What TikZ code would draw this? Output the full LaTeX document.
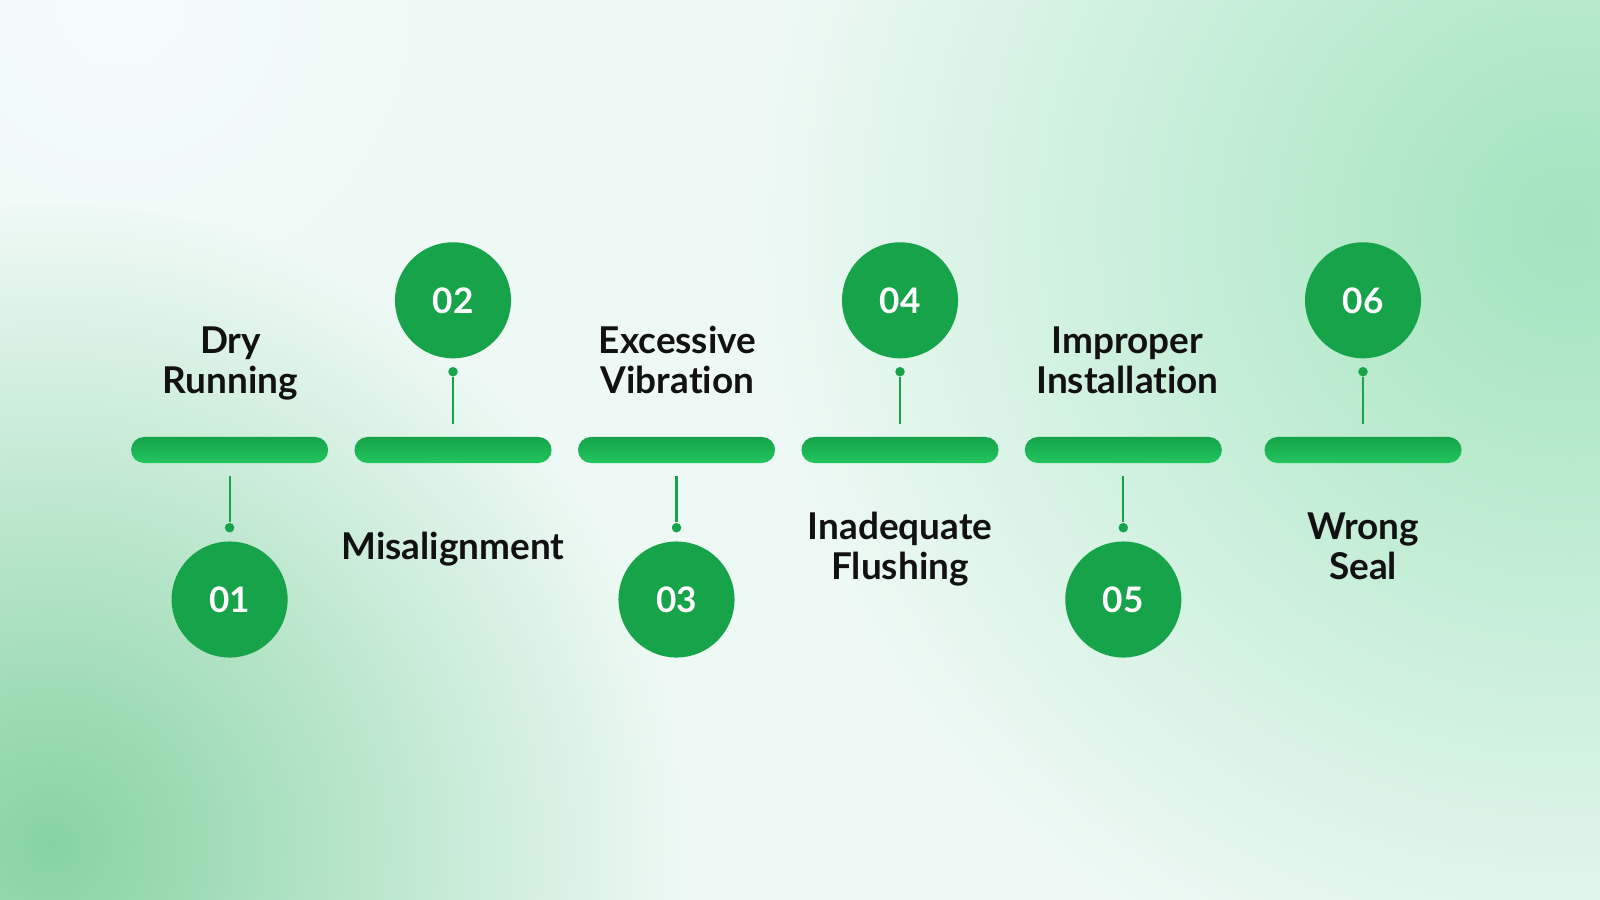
\documentclass[tikz,border=0pt]{standalone}
\usepackage{fontspec}
\setmainfont{Lato}[Ligatures=NoCommon]
\usetikzlibrary{positioning}

\definecolor{leafgreen}{HTML}{16A34A}
\definecolor{barlight}{HTML}{22C55E}
\definecolor{mintbg}{HTML}{EEF9F5}
\definecolor{cornerdark}{HTML}{86D3A2}
\definecolor{cornerlight}{HTML}{A2E4BD}
\definecolor{palemint}{HTML}{F4FCFC}
\definecolor{inkblack}{HTML}{111111}

\pgfdeclareradialshading{glowdark}{\pgfpointorigin}{color(0bp)=(cornerdark); color(25bp)=(mintbg); color(50bp)=(mintbg)}
\pgfdeclareradialshading{glowlight}{\pgfpointorigin}{color(0bp)=(cornerlight); color(25bp)=(mintbg); color(50bp)=(mintbg)}
\pgfdeclareradialshading{glowpale}{\pgfpointorigin}{color(0bp)=(palemint); color(25bp)=(mintbg); color(50bp)=(mintbg)}

\tikzset{
  bar/.style={rectangle, rounded corners=0.13cm, minimum width=1.97cm,
    minimum height=0.26cm, inner sep=0pt, top color=leafgreen, bottom color=barlight},
  badge/.style={circle, fill=leafgreen, minimum size=1.16cm, inner sep=0pt,
    text=white, font=\bfseries\fontsize{10}{12}\selectfont},
  pin/.style={circle, fill=leafgreen, minimum size=0.095cm, inner sep=0pt},
  stem/.style={leafgreen, line width=0.6pt, shorten >=0.12cm},
  cause/.style={align=center, text=inkblack, font=\bfseries\fontsize{10.5}{11.4}\selectfont},
}

\begin{document}
\begin{tikzpicture}[x=0.01cm, y=-0.01cm]
        \useasboundingbox (0,0) rectangle (1600,900);
        % background
        \fill[mintbg] (0,0) rectangle (1600,900);
        \begin{scope}
            \clip (0,0) rectangle (1600,900);
            \shade[shading=glowpale] (120,0) circle (320);
            \shade[shading=glowdark] (50,845) circle (640);
            \shade[shading=glowlight] (1570,225) circle (820);
        \end{scope}

        % bars
        \node[bar] (bar1) at (229.6,450) {};
        \node[bar] (bar2) at (453,450) {};
        \node[bar] (bar3) at (676.5,450) {};
        \node[bar] (bar4) at (900,450) {};
        \node[bar] (bar5) at (1123.3,450) {};
        \node[bar] (bar6) at (1363,450) {};

        % number badges
        \node[badge] (num1) at (229.6,599.5) {01};
        \node[badge] (num2) at (453,300.3) {02};
        \node[badge] (num3) at (676.5,599.5) {03};
        \node[badge] (num4) at (900,300.3) {04};
        \node[badge] (num5) at (1123.3,599.5) {05};
        \node[badge] (num6) at (1363,300.3) {06};

        % pins and stems
        \node[pin] (pin1) at (229.6,527.7) {};
        \node[pin] (pin2) at (453,371.7) {};
        \node[pin] (pin3) at (676.5,527.7) {};
        \node[pin] (pin4) at (900,371.7) {};
        \node[pin] (pin5) at (1123.3,527.7) {};
        \node[pin] (pin6) at (1363,371.7) {};
        \draw[stem] (pin1) -- (bar1);
        \draw[stem] (pin2) -- (bar2);
        \draw[stem] (pin3) -- (bar3);
        \draw[stem] (pin4) -- (bar4);
        \draw[stem] (pin5) -- (bar5);
        \draw[stem] (pin6) -- (bar6);

        % causes
        \node[cause] (dry) at (230.5,363.5) {Dry\\Running};
        \node[cause] (misalign) at (453,549) {Misalignment};
        \node[cause] (vibration) at (677.5,360) {Excessive\\Vibration};
        \node[cause] (flushing) at (900,549) {Inadequate\\Flushing};
        \node[cause] (install) at (1127.5,360) {Improper\\Installation};
        \node[cause] (seal) at (1363,546) {Wrong\\Seal};
    \end{tikzpicture}
\end{document}
